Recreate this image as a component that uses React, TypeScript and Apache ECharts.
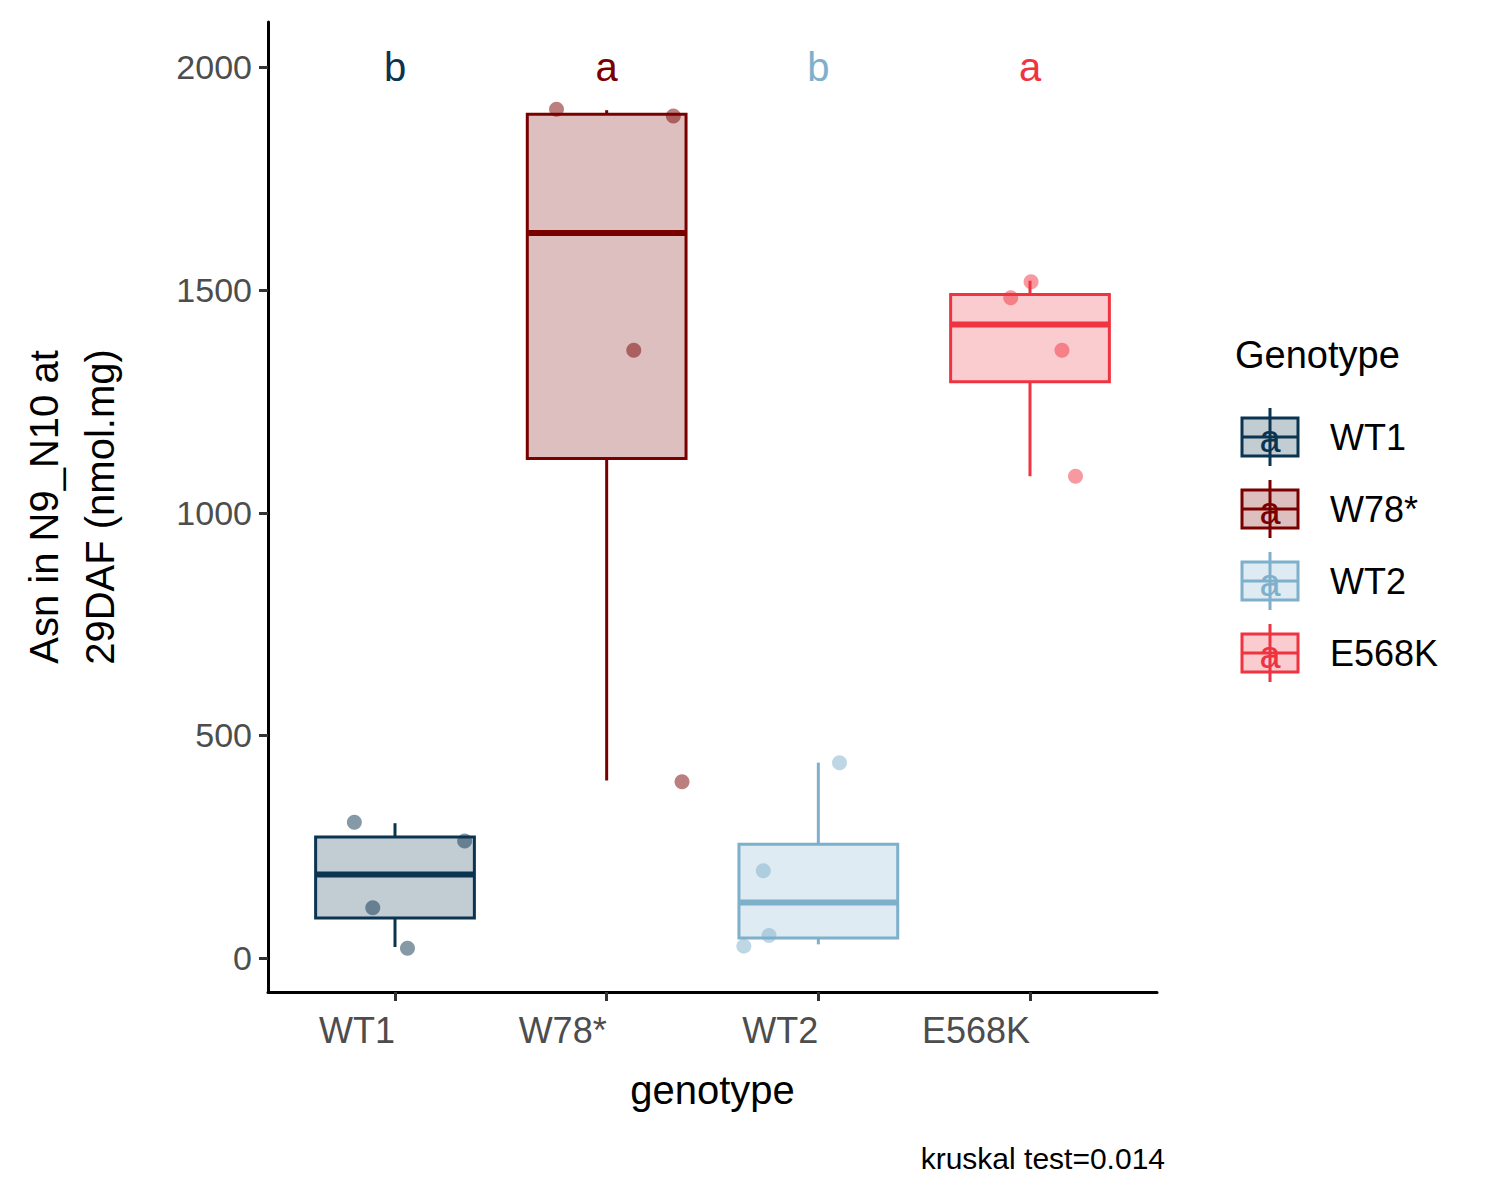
import React, { useRef, useEffect } from 'react'
import * as echarts from 'echarts'

const genotypes = ['WT1', 'W78*', 'WT2', 'E568K']
const colors = ['#0b3450', '#7a0000', '#7eb0cc', '#ef3340']
// [min, q1, median, q3, max]
const boxStats = [
  [25, 90, 188, 272, 303],
  [399, 1122, 1628, 1895, 1904],
  [31, 45, 125, 256, 439],
  [1082, 1294, 1423, 1490, 1521]
]
// jittered points: [x, value]
const points = [
  [[0.808, 305], [0.895, 113], [1.059, 22], [1.329, 263]],
  [[1.763, 1906], [2.315, 1891], [2.128, 1365], [2.356, 396]],
  [[3.1, 439], [2.74, 196], [2.767, 51], [2.648, 27]],
  [[4.005, 1519], [3.909, 1483], [4.151, 1365], [4.215, 1082]]
]
const letters = ['b', 'a', 'b', 'a']
const yTicks = [0, 500, 1000, 1500, 2000]

const font = 'Arial, Liberation Sans, sans-serif'
const M = 8 // body margin

const hexA = (hex: string, a: number) => {
  const n = parseInt(hex.slice(1), 16)
  return `rgba(${(n >> 16) & 255},${(n >> 8) & 255},${n & 255},${a})`
}

const App: React.FC = () => {
  const chartRef = useRef<HTMLDivElement>(null)

  useEffect(() => {
    if (!chartRef.current) return
    const chart = echarts.init(chartRef.current, null, { renderer: 'svg' })

    const series: any[] = [
      {
        type: 'custom',
        data: boxStats.map((s, i) => [i + 1, ...s, i]),
        renderItem: (params: any, api: any) => {
          const x = api.value(0)
          const [mn, q1, md, q3, mx] = [1, 2, 3, 4, 5].map(k => api.value(k))
          const c = colors[api.value(6)]
          const hw = 0.375
          const pMin = api.coord([x, mn])
          const pMax = api.coord([x, mx])
          const pQ1 = api.coord([x, q1])
          const pQ3 = api.coord([x, q3])
          const l = api.coord([x - hw, md])
          const r = api.coord([x + hw, md])
          const lw = 3
          return {
            type: 'group',
            children: [
              { type: 'line', shape: { x1: pMax[0], y1: pMax[1], x2: pQ3[0], y2: pQ3[1] }, style: { stroke: c, lineWidth: lw } },
              { type: 'line', shape: { x1: pMin[0], y1: pMin[1], x2: pQ1[0], y2: pQ1[1] }, style: { stroke: c, lineWidth: lw } },
              { type: 'rect', shape: { x: l[0], y: pQ3[1], width: r[0] - l[0], height: pQ1[1] - pQ3[1] }, style: { fill: hexA(c, 0.25), stroke: c, lineWidth: lw } },
              { type: 'line', shape: { x1: l[0], y1: l[1], x2: r[0], y2: r[1] }, style: { stroke: c, lineWidth: 6 } }
            ]
          }
        },
        z: 2
      },
      ...points.map((pts, i) => ({
        type: 'scatter',
        data: pts,
        symbolSize: 15,
        itemStyle: { color: hexA(colors[i], 0.5), opacity: 1 },
        z: 3
      })),
      {
        type: 'scatter',
        data: letters.map((t, i) => ({ value: [i + 1, 2000], label: { color: colors[i] } })),
        symbolSize: 0,
        itemStyle: { opacity: 1 },
        label: {
          show: true,
          position: 'inside',
          formatter: (p: any) => letters[p.dataIndex],
          fontSize: 40,
          fontFamily: font
        },
        z: 4
      }
    ]

    const legendChildren: any[] = [
      { type: 'text', left: 1235 - M, top: 336 - M, style: { text: 'Genotype', font: `38px ${font}`, fill: '#000' } }
    ]
    genotypes.forEach((g, i) => {
      const cy = 437 + i * 72 - M
      const c = colors[i]
      const x0 = 1242 - M
      legendChildren.push(
        { type: 'line', shape: { x1: x0 + 28, y1: cy - 29, x2: x0 + 28, y2: cy + 29 }, style: { stroke: c, lineWidth: 3 } },
        { type: 'rect', shape: { x: x0, y: cy - 19, width: 56, height: 38 }, style: { fill: hexA(c, 0.25), stroke: c, lineWidth: 3 } },
        { type: 'line', shape: { x1: x0, y1: cy, x2: x0 + 56, y2: cy }, style: { stroke: c, lineWidth: 3 } },
        { type: 'text', x: x0 + 28, y: cy + 2, style: { text: 'a', font: `38px ${font}`, fill: c, align: 'center', verticalAlign: 'middle' } },
        { type: 'text', x: 1330 - M, y: cy, style: { text: g, font: `36px ${font}`, fill: '#000', verticalAlign: 'middle' } }
      )
    })
    legendChildren.push({
      type: 'text', x: 1165 - M, y: 1158 - M, style: { text: 'kruskal test=0.014', font: `30px ${font}`, fill: '#000', align: 'right', verticalAlign: 'middle' }
    })

    chart.setOption({
      animation: false,
      grid: { left: 247 - M, right: 335 + M, top: 22 - M, bottom: 200 + M },
      xAxis: {
        type: 'value',
        min: 0.4,
        max: 4.6,
        name: 'genotype',
        nameLocation: 'middle',
        nameGap: 78,
        nameTextStyle: { fontSize: 40, fontFamily: font, color: '#000' },
        axisLine: { onZero: false, lineStyle: { color: '#000', width: 3 } },
        axisTick: { customValues: [1, 2, 3, 4], length: 9, lineStyle: { color: '#333', width: 3 } },
        axisLabel: {
          customValues: [1, 2, 3, 4],
          formatter: (v: number) => genotypes[Math.round(v) - 1],
          fontSize: 36,
          fontFamily: font,
          color: '#4d4d4d',
          align: 'right',
          margin: 20
        },
        splitLine: { show: false }
      },
      yAxis: {
        type: 'value',
        min: -76,
        max: 2102,
        name: 'Asn in N9_N10 at\n29DAF (nmol.mg)',
        nameLocation: 'middle',
        nameRotate: 90,
        nameGap: 140,
        nameTextStyle: { fontSize: 40, fontFamily: font, color: '#000', lineHeight: 56 },
        axisLine: { onZero: false, lineStyle: { color: '#000', width: 3 } },
        axisTick: { customValues: yTicks, length: 9, lineStyle: { color: '#333', width: 3 } },
        axisLabel: { customValues: yTicks, formatter: (v: number) => String(v), fontSize: 34, fontFamily: font, color: '#4d4d4d', margin: 16 },
        splitLine: { show: false }
      },
      graphic: legendChildren,
      series
    })

    return () => chart.dispose()
  }, [])

  return <div ref={chartRef} style={{ width: 1492, height: 1192 }} />
}

export default App
